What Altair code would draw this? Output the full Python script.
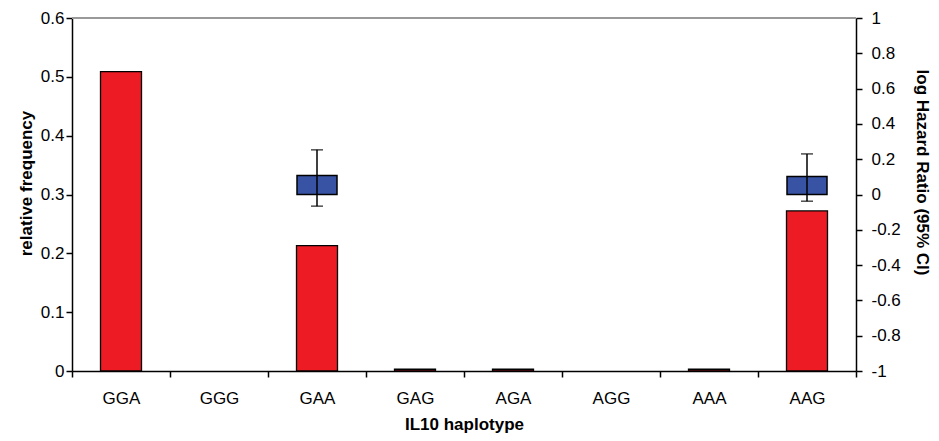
import altair as alt
import pandas as pd

haplotypes = ["GGA", "GGG", "GAA", "GAG", "AGA", "AGG", "AAA", "AAG"]
frequency = [0.509, 0.0, 0.213, 0.003, 0.003, 0.0, 0.003, 0.272]
hr_haplotypes = ["GAA", "AAG"]
log_hr = [0.107, 0.102]
hr_low = [-0.066, -0.038]
hr_high = [0.253, 0.23]
left_ticks = [0, 0.1, 0.2, 0.3, 0.4, 0.5, 0.6]
right_ticks = [-1, -0.8, -0.6, -0.4, -0.2, 0, 0.2, 0.4, 0.6, 0.8, 1]

freq_df = pd.DataFrame({"haplotype": haplotypes, "freq": frequency})
hr_df = pd.DataFrame({"haplotype": hr_haplotypes, "hr": log_hr, "lo": hr_low, "hi": hr_high})

FONT = "Liberation Sans"
LABEL_EXPR = "(datum.value < 0 ? '-' : '') + format(abs(datum.value), '~g')"

x_enc = alt.X(
    "haplotype:N", sort=haplotypes,
    scale=alt.Scale(domain=haplotypes, paddingInner=0, paddingOuter=0),
    axis=alt.Axis(title="IL10 haplotype", labelAngle=0, tickBand="extent",
                  labelPadding=13, titlePadding=10, tickSize=6),
)
x_plain = alt.X("haplotype:N", sort=haplotypes)

red = alt.Chart(freq_df).transform_filter("datum.freq > 0").mark_bar(
    color="#ED1C24", stroke="black", strokeWidth=1.3, size=41).encode(
    x=x_enc,
    y=alt.Y("freq:Q", scale=alt.Scale(domain=[0, 0.6], nice=False),
            axis=alt.Axis(title="relative frequency", values=left_ticks,
                          labelExpr=LABEL_EXPR, orient="left", tickSize=6,
                          labelPadding=2, titlePadding=5, titleY=165)),
)
topline = alt.Chart(freq_df).mark_rule(color="#999999", strokeWidth=1).encode(y=alt.datum(0.6))
left = alt.layer(red, topline)

right_axis = alt.Axis(title="log Hazard Ratio (95% CI)", orient="right",
                      values=right_ticks, labelExpr=LABEL_EXPR, labelOverlap=False,
                      tickSize=6, labelPadding=9, titlePadding=12, titleY=154)
yr = alt.Y("hr:Q", scale=alt.Scale(domain=[-1, 1], nice=False), axis=right_axis)
blue = alt.Chart(hr_df).mark_bar(color="#3953A4", stroke="black", strokeWidth=1.5, size=40).encode(
    x=x_plain, y=yr, y2=alt.datum(0))
err = alt.Chart(hr_df).mark_rule(color="black", strokeWidth=1.5).encode(
    x=x_plain, y=alt.Y("lo:Q", axis=right_axis), y2="hi:Q")
cap_lo = alt.Chart(hr_df).mark_tick(color="black", thickness=1.5, size=12).encode(
    x=x_plain, y=alt.Y("lo:Q", axis=right_axis))
cap_hi = alt.Chart(hr_df).mark_tick(color="black", thickness=1.5, size=12).encode(
    x=x_plain, y=alt.Y("hi:Q", axis=right_axis))
right = alt.layer(blue, err, cap_lo, cap_hi)

chart = alt.layer(left, right).resolve_scale(y="independent").properties(
    width=784, height=353, autosize=alt.AutoSizeParams(type="none"),
    padding={"left": 64, "top": 10, "right": 75, "bottom": 62},
).configure_view(stroke=None).configure_axis(
    labelFont=FONT, titleFont=FONT, labelFontSize=17, titleFontSize=17,
    labelColor="black", titleColor="black", domainColor="black", tickColor="black",
    domainWidth=1.5, tickWidth=1.5, grid=False, titleFontWeight="bold",
    labelOverlap=False,
)

chart.save("out.html", embed_options={"renderer": "svg", "actions": False})
